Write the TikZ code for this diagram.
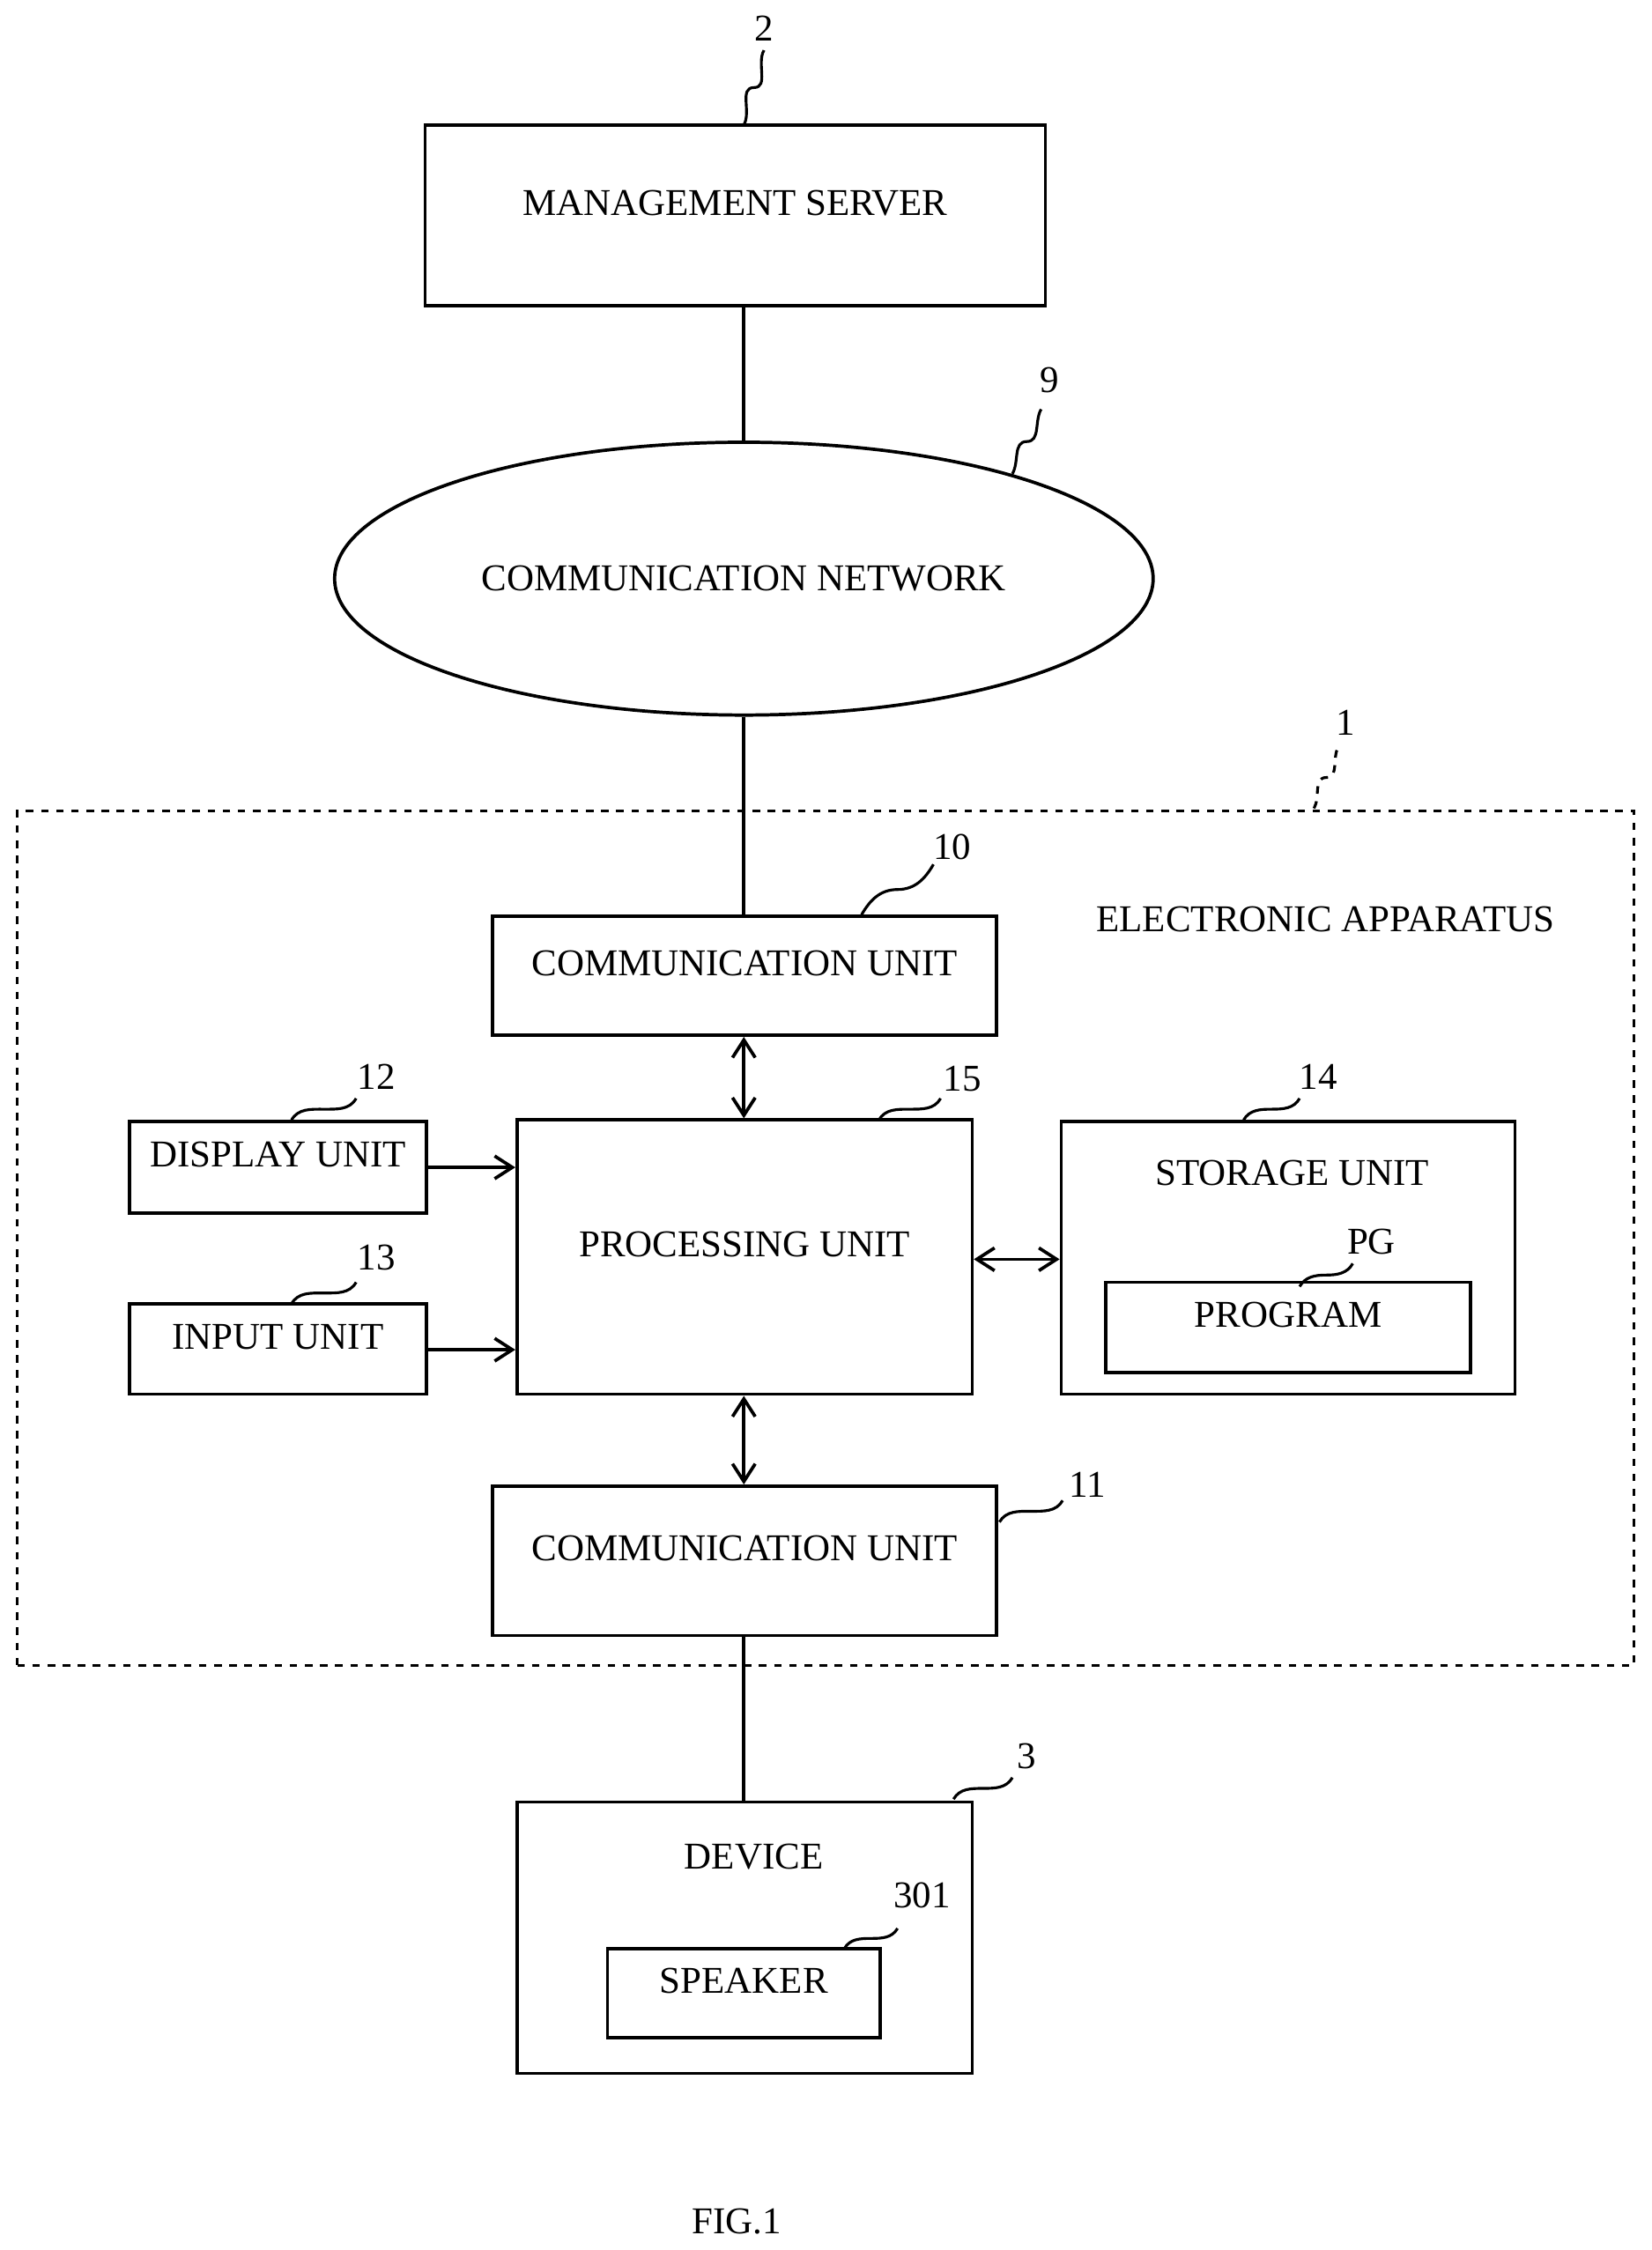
\documentclass[tikz,border=0pt]{standalone}
\usepackage{fontspec}
\setmainfont{Liberation Serif}
\usetikzlibrary{fit,shapes.geometric,arrows.meta,calc}
\tikzset{
  box/.style={draw, line width=1.3pt, inner sep=0pt, font=\fontsize{15}{18}\selectfont},
  conn/.style={line width=1.3pt},
  dbl/.style={line width=1.3pt, {Straight Barb[length=7pt,width=9pt]}-{Straight Barb[length=7pt,width=9pt]}},
  one/.style={line width=1.3pt, -{Straight Barb[length=7pt,width=9pt]}},
  refno/.style={font=\fontsize{15}{18}\selectfont},
  squig/.style={line width=1.1pt}
}
\newcommand\leader[3][]{\draw[squig,#1] #2 to[out=60,in=180] ($#2!0.5!#3$) to[out=0,in=240] #3;}
\begin{document}
\begin{tikzpicture}[x=0.02cm,y=-0.02cm]
\useasboundingbox (0,0) rectangle (1150,1567);
% top
\node[box, fit={(296,87)(728,213)}] (server) {MANAGEMENT SERVER};
\node[box, ellipse, minimum width=570*0.02cm, minimum height=190*0.02cm] (net) at (518,403) {COMMUNICATION NETWORK};
% apparatus
\node[draw, dashed, line width=1.1pt, inner sep=0pt, fit={(12,565)(1138,1160)}] (app) {};
\node[refno] (apptxt) at (923,640) {ELECTRONIC APPARATUS};
\node[box, fit={(343,638)(694,721)}] (comA) {COMMUNICATION UNIT};
\node[box, fit={(360,780)(677,971)}] (proc) {PROCESSING UNIT};
\node[box, fit={(90,781)(297,845)}] (disp) {DISPLAY UNIT};
\node[box, fit={(90,908)(297,971)}] (inp) {INPUT UNIT};
\node[box, fit={(739,781)(1055,971)}] (stor) {};
\node[refno] (stortxt) at (900,817) {STORAGE UNIT};
\node[box, fit={(770,893)(1024,956)}] (prog) {PROGRAM};
\node[box, fit={(343,1035)(694,1139)}] (comB) {COMMUNICATION UNIT};
% device
\node[box, fit={(360,1255)(677,1444)}] (dev) {};
\node[refno] (devtxt) at (525,1293) {DEVICE};
\node[box, fit={(423,1357)(613,1419)}] (spk) {SPEAKER};
% connectors
\draw[conn] (server.south -| 518,0) -- (net.north);
\draw[conn] (net.south) -- (comA.north -| 518,0);
\draw[dbl] (comA.south -| 518,0) -- (proc.north -| 518,0);
\draw[one] (disp.east |- 0,813) -- (proc.west |- 0,813);
\draw[one] (inp.east |- 0,940) -- (proc.west |- 0,940);
\draw[dbl] (proc.east |- 0,877) -- (stor.west |- 0,877);
\draw[dbl] (proc.south -| 518,0) -- (comB.north -| 518,0);
\draw[conn] (comB.south -| 518,0) -- (dev.north -| 518,0);
% reference numerals
\node[refno] (n2) at (532,20) {2};
\leader{(518,87)}{(532,35)}
\node[refno] (n9) at (731,265) {9};
\leader{(705,330)}{(725,285)}
\node[refno] (n1) at (937,503) {1};
\leader[dashed]{(915,563)}{(932,520)}
\node[refno] (n10) at (663,590) {10};
\leader{(600,637)}{(650,602)}
\node[refno] (n15) at (670,751) {15};
\leader{(612,780)}{(655,765)}
\node[refno] (n12) at (262,750) {12};
\leader{(203,780)}{(248,765)}
\node[refno] (n13) at (262,876) {13};
\leader{(203,908)}{(248,893)}
\node[refno] (n14) at (918,750) {14};
\leader{(866,780)}{(905,765)}
\node[refno] (npg) at (955,865) {PG};
\leader{(905,896)}{(942,880)}
\node[refno] (n11) at (757,1034) {11};
\leader{(696,1060)}{(740,1045)}
\node[refno] (n3) at (715,1223) {3};
\leader{(664,1253)}{(705,1238)}
\node[refno] (n301) at (642,1320) {301};
\leader{(588,1357)}{(625,1343)}
\node[refno] (fig) at (513,1547) {FIG.1};
\end{tikzpicture}
\end{document}
